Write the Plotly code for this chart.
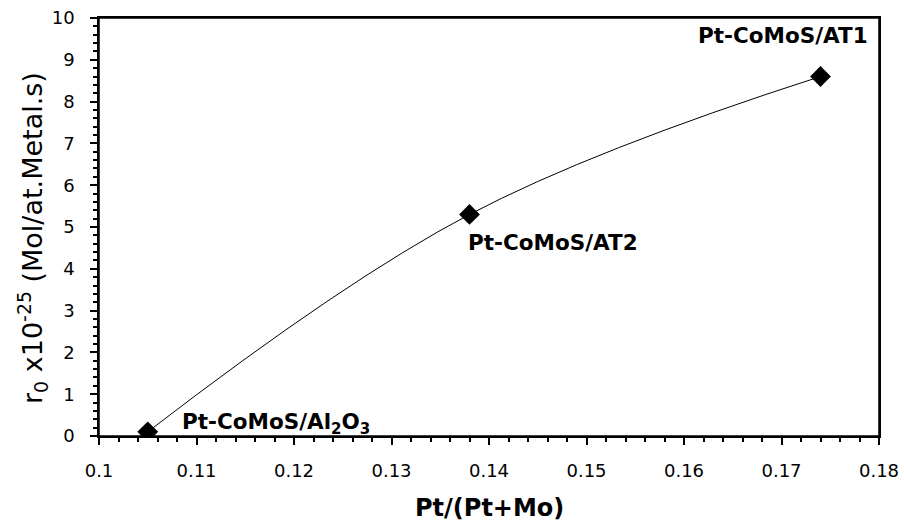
import plotly.graph_objects as go

x_vals = [0.105, 0.138, 0.174]
y_vals = [0.1, 5.3, 8.6]
labels = ["Pt-CoMoS/Al<sub>2</sub>O<sub>3</sub>", "Pt-CoMoS/AT2", "Pt-CoMoS/AT1"]
label_xshift = [32, -4, -38]
label_yshift = [8, -28, 41]
label_anchor = ["left", "left", "center"]
x_title = "Pt/(Pt+Mo)"
y_title = "r<sub>0</sub> x10<sup>-25</sup> (Mol/at.Metal.s)"

FONT = "DejaVu Sans"

fig = go.Figure()
fig.add_trace(go.Scatter(
    x=x_vals, y=y_vals, mode="lines+markers",
    line=dict(color="black", width=1, shape="spline", smoothing=1.1),
    marker=dict(symbol="diamond", size=16, color="black"),
    showlegend=False, hoverinfo="skip",
))

for xv, yv, t, xs, ys, xa in zip(x_vals, y_vals, labels, label_xshift, label_yshift, label_anchor):
    fig.add_annotation(x=xv, y=yv, text="<b>" + t + "</b>", showarrow=False,
                       xanchor=xa, yanchor="middle", xshift=xs, yshift=ys,
                       font=dict(family=FONT, size=21.5, color="black"))

# axis titles
fig.add_annotation(x=0.5, y=0, xref="paper", yref="paper", text="<b>" + x_title + "</b>",
                   showarrow=False, xanchor="center", yanchor="middle", yshift=-72,
                   font=dict(family=FONT, size=24, color="black"))
fig.add_annotation(x=0, y=0.5, xref="paper", yref="paper", text=y_title, textangle=-90,
                   showarrow=False, xanchor="center", yanchor="middle", xshift=-67, yshift=-11,
                   font=dict(family=FONT, size=27, color="black"))

# plot-area frame
fig.add_shape(type="rect", xref="paper", yref="paper", x0=0, y0=0, x1=1, y1=1,
              line=dict(color="black", width=1.5), layer="above")

fig.update_layout(
    width=904, height=523,
    margin=dict(l=99, r=25, t=18, b=87),
    paper_bgcolor="white", plot_bgcolor="white",
    font=dict(family=FONT, color="black"),
)
fig.update_xaxes(
    range=[0.1, 0.18], dtick=0.01, tick0=0.1, tickformat="~g",
    showline=True, linecolor="black", linewidth=1.5, mirror=True,
    ticks="outside", ticklen=7, tickcolor="black", tickwidth=1.5,
    minor=dict(dtick=0.002, ticks="outside", ticklen=4, tickcolor="black", tickwidth=1.5),
    showgrid=False, zeroline=False, ticklabelstandoff=11, ticklabeloverflow="allow",
    automargin=False,
    tickfont=dict(family=FONT, size=18, color="black"),
)
fig.update_yaxes(
    range=[0, 10], dtick=1,
    showline=True, linecolor="black", linewidth=1.5, mirror=True,
    ticks="outside", ticklen=7, tickcolor="black", tickwidth=1.5,
    minor=dict(dtick=0.2, ticks="outside", ticklen=4, tickcolor="black", tickwidth=1.5),
    showgrid=False, zeroline=False, ticklabelstandoff=12, ticklabeloverflow="allow",
    automargin=False,
    tickfont=dict(family=FONT, size=18, color="black"),
)

fig.write_html("out.html", config={"displayModeBar": False},
               post_script="document.body.style.margin='0';document.body.style.overflow='hidden';")
